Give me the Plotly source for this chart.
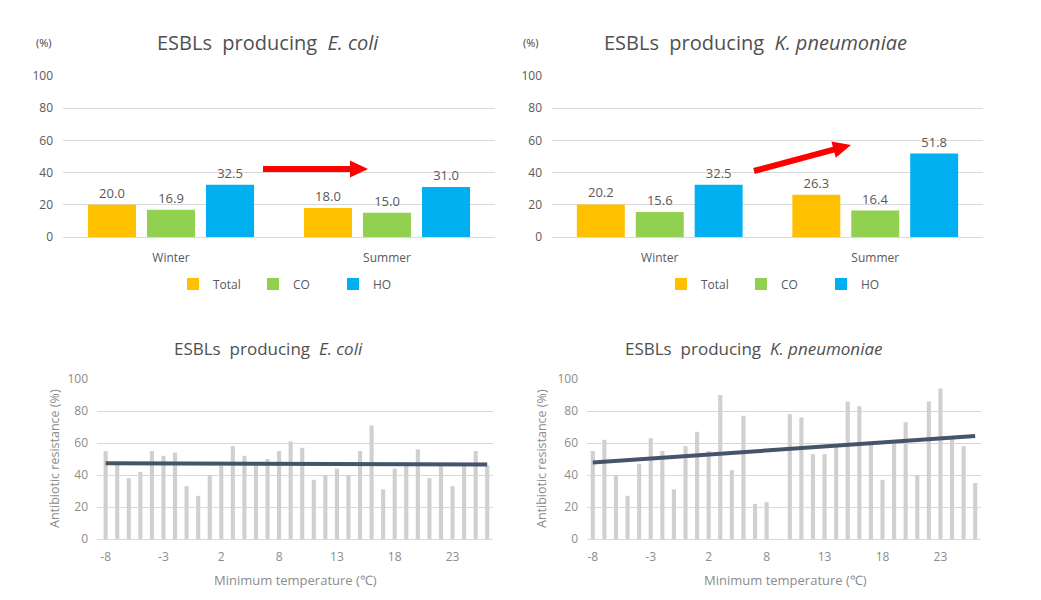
import numpy as np
import plotly.graph_objects as go

W, H = 1041, 600

# ---------------- data ----------------
seasons = ["Winter", "Summer"]
ecoli_total = [20.0, 18.0]
ecoli_co = [16.9, 15.0]
ecoli_ho = [32.5, 31.0]
kp_total = [20.2, 26.3]
kp_co = [15.6, 16.4]
kp_ho = [32.5, 51.8]

min_temp = [-8, -7, -6, -5, -4, -3, -2, -1, 0, 1, 2, 3, 4, 5, 6,
            8, 9, 10, 11, 12, 13, 14, 15, 16, 17, 18, 19, 20, 21, 22, 23, 24, 25, 26]
ecoli_res = [55, 48, 38, 42, 55, 52, 54, 33, 27, 40, 46, 58, 52, 46, 50,
             55, 61, 57, 37, 40, 44, 40, 55, 71, 31, 44, 46, 56, 38, 46, 33, 46, 55, 46]
kp_res = [55, 62, 40, 27, 47, 63, 55, 31, 58, 67, 55, 90, 43, 77, 22,
          23, 0, 78, 76, 53, 53, 58, 86, 83, 59, 37, 60, 73, 40, 86, 94, 63, 58, 35]
temp_ticks = ["-8", "-3", "2", "8", "13", "18", "23"]

series_names = ["Total", "CO", "HO"]
series_colors = ["#FFC000", "#92D050", "#00B0F0"]


def px(x):
    return x / W


def py(y):
    return 1 - y / H


TXT = "#595959"
LIGHT = "#8C8C8C"
GRID = "#D9D9D9"
FONT = "Open Sans"

fig = go.Figure()

# top bar charts
for vals_set, xa, ya, lg in [((ecoli_total, ecoli_co, ecoli_ho), "x", "y", "legend"),
                             ((kp_total, kp_co, kp_ho), "x2", "y2", "legend2")]:
    for name, col, vals in zip(series_names, series_colors, vals_set):
        fig.add_trace(go.Bar(
            x=seasons, y=vals, name=name, marker=dict(color=col, line=dict(width=0)),
            xaxis=xa, yaxis=ya, legend=lg,
            texttemplate="%{y:.1f}", textposition="outside",
            textfont=dict(size=13, color=TXT, family=FONT), cliponaxis=False,
            hoverinfo="skip"))

# bottom bar + trend charts
cats = [str(t) for t in min_temp]
for vals, xa, ya in [(ecoli_res, "x3", "y3"), (kp_res, "x4", "y4")]:
    fig.add_trace(go.Bar(x=cats, y=vals, width=0.36, marker=dict(color="#D0D0D0", line=dict(width=0)),
                         xaxis=xa, yaxis=ya, showlegend=False, hoverinfo="skip"))
    idx = np.arange(len(vals))
    slope, icpt = np.polyfit(idx, np.array(vals, dtype=float), 1)
    fig.add_trace(go.Scatter(x=[cats[0], cats[-1]], y=[icpt, icpt + slope * idx[-1]],
                             mode="lines", line=dict(color="#44546A", width=4),
                             xaxis=xa, yaxis=ya, showlegend=False, hoverinfo="skip"))

top_dom_y = [py(237), py(76)]
bot_dom_y = [py(539), py(379)]

xcat_top = dict(type="category", showgrid=False, showline=False, ticks="", zeroline=False,
                automargin=False,
                tickfont=dict(size=12, color=TXT, family=FONT), ticklabelstandoff=12)
ytop = dict(range=[0, 100], dtick=20, tick0=0, gridcolor=GRID, gridwidth=1, zeroline=True,
            zerolinecolor=GRID, zerolinewidth=1, showline=False, ticks="", automargin=False,
            tickfont=dict(size=12, color=TXT, family=FONT), ticklabelstandoff=9)
xcat_bot = dict(type="category", showgrid=False, showline=False, ticks="", zeroline=False,
                automargin=False,
                categoryorder="array", categoryarray=cats,
                tickmode="array", tickvals=[c for c in temp_ticks], ticktext=temp_ticks,
                tickfont=dict(size=12, color=LIGHT, family=FONT), ticklabelstandoff=9)
ybot = dict(range=[0, 100], dtick=20, tick0=0, gridcolor=GRID, gridwidth=1, zeroline=True,
            zerolinecolor=GRID, zerolinewidth=1, showline=False, ticks="", automargin=False,
            tickfont=dict(size=12, color=LIGHT, family=FONT), ticklabelstandoff=8)

fig.update_layout(
    width=W, height=H, margin=dict(l=0, r=0, t=0, b=0, pad=0, autoexpand=False),
    paper_bgcolor="white", plot_bgcolor="white",
    barmode="group", bargap=0.18, bargroupgap=0.186,
    font=dict(family=FONT, color=TXT),
    xaxis=dict(domain=[px(63), px(495)], anchor="y", **xcat_top),
    yaxis=dict(domain=top_dom_y, anchor="x", **ytop),
    xaxis2=dict(domain=[px(552), px(983)], anchor="y2", **xcat_top),
    yaxis2=dict(domain=top_dom_y, anchor="x2", **ytop),
    xaxis3=dict(domain=[px(97), px(493)], anchor="y3", range=[-0.75, 33.5], **xcat_bot),
    yaxis3=dict(domain=bot_dom_y, anchor="x3", **ybot),
    xaxis4=dict(domain=[px(587), px(981)], anchor="y4", range=[-0.5, 33.5], **xcat_bot),
    yaxis4=dict(domain=bot_dom_y, anchor="x4", **ybot),
    legend=dict(orientation="h", x=px(173), xanchor="left", y=py(284), yanchor="middle",
                font=dict(size=12, color=TXT, family=FONT), bgcolor="rgba(0,0,0,0)",
                itemclick=False, entrywidth=35, itemwidth=30, tracegroupgap=0),
    legend2=dict(orientation="h", x=px(661), xanchor="left", y=py(284), yanchor="middle",
                 font=dict(size=12, color=TXT, family=FONT), bgcolor="rgba(0,0,0,0)",
                 itemclick=False, entrywidth=35, itemwidth=30, tracegroupgap=0),
)

ann = []
# titles
for text, x, y, size in [("ESBLs  producing  <i>E. coli</i>", 268, 42, 20),
                         ("ESBLs  producing  <i>K. pneumoniae</i>", 755, 42, 20),
                         ("ESBLs  producing  <i>E. coli</i>", 268, 348, 17),
                         ("ESBLs  producing  <i>K. pneumoniae</i>", 754, 348, 17)]:
    ann.append(dict(text=text, x=px(x), y=py(y), xref="paper", yref="paper",
                    xanchor="center", yanchor="middle", showarrow=False,
                    font=dict(size=size, color="#505050", family=FONT)))
# (%) labels
for x in [44, 531]:
    ann.append(dict(text="(%)", x=px(x), y=py(42), xref="paper", yref="paper",
                    xanchor="center", yanchor="middle", showarrow=False,
                    font=dict(size=11, color="#404040", family=FONT)))
# axis titles bottom
for x in [295, 785]:
    ann.append(dict(text="Minimum temperature (℃)", x=px(x), y=py(580), xref="paper", yref="paper",
                    xanchor="center", yanchor="middle", showarrow=False,
                    font=dict(size=13, color=LIGHT, family=FONT)))
for x in [54, 541]:
    ann.append(dict(text="Antibiotic resistance (%)", x=px(x), y=py(459), xref="paper", yref="paper",
                    xanchor="center", yanchor="middle", showarrow=False, textangle=-90,
                    font=dict(size=12.5, color=LIGHT, family=FONT)))
fig.update_layout(annotations=ann)


# red arrows as polygons (pixel geometry converted to paper)
def arrow_path(x0, y0, x1, y1, sw=3.0, hl=18.0, hw=8.5):
    dx, dy = x1 - x0, y1 - y0
    L = (dx * dx + dy * dy) ** 0.5
    ux, uy = dx / L, dy / L
    nx, ny = -uy, ux
    bx, by = x1 - ux * hl, y1 - uy * hl
    pts = [(x0 + nx * sw, y0 + ny * sw), (bx + nx * sw, by + ny * sw), (bx + nx * hw, by + ny * hw),
           (x1, y1), (bx - nx * hw, by - ny * hw), (bx - nx * sw, by - ny * sw), (x0 - nx * sw, y0 - ny * sw)]
    return "M " + " L ".join(f"{px(a):.5f},{py(b):.5f}" for a, b in pts) + " Z"


shapes = []
for (x0, y0, x1, y1) in [(263, 169, 368, 169), (754, 171, 851, 145)]:
    shapes.append(dict(type="path", xref="paper", yref="paper", path=arrow_path(x0, y0, x1, y1),
                       fillcolor="#FF0000", line=dict(width=0), layer="above"))
fig.update_layout(shapes=shapes)

fig.write_html("out.html", config={"displayModeBar": False},
               post_script="document.body.style.margin='0px';document.body.style.overflow='hidden';")
